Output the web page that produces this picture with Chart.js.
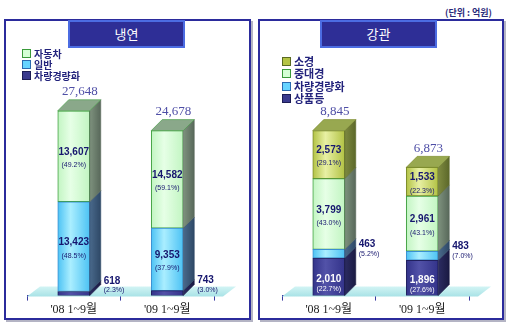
<!DOCTYPE html>
<html>
<head>
<meta charset="utf-8">
<script src="https://cdn.jsdelivr.net/npm/chart.js@4"></script>
<style>
  body{margin:0;width:512px;height:329px;background:#fff;position:relative;overflow:hidden;font-family:"Noto Sans CJK KR",sans-serif}
  .panel{position:absolute;top:19px;height:301px;box-sizing:border-box;border:2px solid #2b2b9c;box-shadow:2px 2px 0 #b4b4c4}
  #p1{left:4px;width:247px}
  #p2{left:258px;width:246px}
  .ttl{position:absolute;top:20px;width:117px;height:28px;box-sizing:border-box;background:#2e2e96;border:2px solid #4c6ce2;color:#fff;text-align:center;font-size:13px;line-height:24px;z-index:3}
  #t1{left:68px}
  #t2{left:320px}
  .unit{position:absolute;left:445px;top:6px;font-size:9px;color:#2a2a7a;font-weight:bold}
  .legend{position:absolute;z-index:3;color:#23237c;font-weight:bold}
  .legend div{white-space:nowrap}
  .legend i{display:inline-block;width:7px;height:7px;margin-right:3px;vertical-align:0px;border:1px solid}
  #l1{left:22px;top:48px;font-size:10px;line-height:11px}
  #l2{left:282px;top:55px;font-size:11px;line-height:12.3px}
  canvas{position:absolute;top:20px;z-index:2}
  #c1{left:5px}
  #c2{left:260px}
</style>
</head>
<body>
<div class="unit">(단위 : 억원)</div>
<div class="panel" id="p1"></div>
<div class="panel" id="p2"></div>
<div class="ttl" id="t1">냉연</div>
<div class="ttl" id="t2">강관</div>
<div class="legend" id="l1">
  <div><i style="background:#d4ffd4;border-color:#3a9a3a"></i>자동차</div>
  <div><i style="background:#66d4ff;border-color:#2a6ab0"></i>일반</div>
  <div><i style="background:#3a3a8e;border-color:#1c1c55"></i>차량경량화</div>
</div>
<div class="legend" id="l2">
  <div><i style="background:#b4c444;border-color:#5a6a22"></i>소경</div>
  <div><i style="background:#d4ffd4;border-color:#3a9a3a"></i>중대경</div>
  <div><i style="background:#66d4ff;border-color:#2a6ab0"></i>차량경량화</div>
  <div><i style="background:#3a3a8e;border-color:#1c1c55"></i>상품등</div>
</div>
<canvas id="c1" width="245" height="299"></canvas>
<canvas id="c2" width="242" height="299"></canvas>
<script>
// categories
const categories = ["'08 1~9월", "'09 1~9월"];

// 냉연 (bottom -> top)
const coldLight = [618, 743];        // 차량경량화
const coldGeneral = [13423, 9353];   // 일반
const coldAuto = [13607, 14582];     // 자동차
const coldLightPct = ['(2.3%)', '(3.0%)'];
const coldGeneralPct = ['(48.5%)', '(37.9%)'];
const coldAutoPct = ['(49.2%)', '(59.1%)'];
const coldTotals = [27648, 24678];

// 강관 (bottom -> top)
const pipeGoods = [2010, 1896];      // 상품등
const pipeLight = [463, 483];        // 차량경량화
const pipeLarge = [3799, 2961];      // 중대경
const pipeSmall = [2573, 1533];      // 소경
const pipeGoodsPct = ['(22.7%)', '(27.6%)'];
const pipeLightPct = ['(5.2%)', '(7.0%)'];
const pipeLargePct = ['(43.0%)', '(43.1%)'];
const pipeSmallPct = ['(29.1%)', '(22.3%)'];
const pipeTotals = [8845, 6873];

const BAR_W = 32, DX = 11, DY = 11;

// colours: front edge, front middle, border, side left, side right, top
const GREEN = ['#c2f5c2', '#e6ffe6', '#3f9f3f', '#7e927e', '#58685a', '#8aa88a'];
const BLUE = ['#4cc2f4', '#aaeeff', '#3a8fd0', '#4a6a8c', '#2e4866', '#6a8aaa'];
const NAVY = ['#33338a', '#5252a8', '#20205e', '#2c2c62', '#1a1a42', '#4a4a8a'];
const OLIVE = ['#b2c244', '#e8f0a4', '#7a8a2a', '#7e8a40', '#5c682a', '#98a850'];

function frontFill(col) {
  return function(ctx) {
    const chart = ctx.chart;
    if (!chart.chartArea || ctx.dataIndex == null) return col[0];
    const x = chart.scales.x.getPixelForValue(ctx.dataIndex);
    const g = chart.ctx.createLinearGradient(x - BAR_W / 2, 0, x + BAR_W / 2, 0);
    g.addColorStop(0, col[0]);
    g.addColorStop(0.4, col[1]);
    g.addColorStop(1, col[0]);
    return g;
  };
}

function ds(label, data, col, pct, light) {
  return {
    label: label, data: data, pct: pct, col: col, whiteText: !!light,
    backgroundColor: frontFill(col), borderColor: col[2], borderWidth: 1,
    borderSkipped: false, barThickness: BAR_W
  };
}

const bars3d = {
  id: 'bars3d',
  beforeDatasetsDraw(chart) {
    // floor plate under the bars
    const c = chart.ctx, a = chart.chartArea, y0 = a.bottom;
    c.save();
    const g = c.createLinearGradient(0, y0 - 9, 0, y0 + 1);
    g.addColorStop(0, '#d2f4f4');
    g.addColorStop(1, '#a8e2e6');
    c.fillStyle = g;
    c.beginPath();
    c.moveTo(a.left, y0 + 1);
    c.lineTo(a.right + 9, y0 + 1);
    c.lineTo(a.right + 22, y0 - 9);
    c.lineTo(a.left + 13, y0 - 9);
    c.closePath();
    c.fill();
    c.restore();
  },
  afterDatasetsDraw(chart) {
    // side and top faces
    const c = chart.ctx;
    const n = chart.data.datasets.length;
    c.save();
    chart.data.datasets.forEach((d, di) => {
      const meta = chart.getDatasetMeta(di);
      meta.data.forEach(el => {
        const p = el.getProps(['x', 'y', 'base', 'width'], true);
        const l = p.x - p.width / 2, r = p.x + p.width / 2;
        const top = Math.min(p.y, p.base), bot = Math.max(p.y, p.base);
        const g = c.createLinearGradient(r, 0, r + DX, 0);
        g.addColorStop(0, d.col[3]);
        g.addColorStop(1, d.col[4]);
        c.fillStyle = g;
        c.strokeStyle = d.col[4];
        c.lineWidth = 0.6;
        c.beginPath();
        c.moveTo(r, bot);
        c.lineTo(r, top);
        c.lineTo(r + DX, top - DY);
        c.lineTo(r + DX, bot - DY);
        c.closePath();
        c.fill();
        c.stroke();
        if (di === n - 1) {
          c.fillStyle = d.col[5];
          c.strokeStyle = d.col[2];
          c.beginPath();
          c.moveTo(l, top);
          c.lineTo(l + DX, top - DY);
          c.lineTo(r + DX, top - DY);
          c.lineTo(r, top);
          c.closePath();
          c.fill();
          c.stroke();
        }
      });
    });
    c.restore();
  },
  afterDraw(chart) {
    // value / share labels and totals
    const c = chart.ctx;
    const n = chart.data.datasets.length;
    c.save();
    c.textBaseline = 'middle';
    chart.data.datasets.forEach((d, di) => {
      const meta = chart.getDatasetMeta(di);
      meta.data.forEach((el, i) => {
        const p = el.getProps(['x', 'y', 'base', 'width'], true);
        const r = p.x + p.width / 2;
        const top = Math.min(p.y, p.base), bot = Math.max(p.y, p.base);
        const val = d.data[i].toLocaleString('en-US');
        let vx, vy, py;
        if (bot - top < 14) {
          c.textAlign = 'left';
          vx = r + DX + 3;
          if (di === 0) { vy = top - 10; py = top - 1; }
          else { vy = top - 5; py = top + 5; }
          c.fillStyle = '#16166e';
        } else {
          c.textAlign = 'center';
          vx = p.x;
          const mid = (top + bot) / 2;
          if (d.whiteText) { vy = mid + 2; py = mid + 12; }
          else { vy = mid - 4; py = mid + 9; }
          c.fillStyle = d.whiteText ? '#ffffff' : '#16166e';
        }
        c.font = 'bold 10px "Liberation Sans", Arial, sans-serif';
        c.fillText(val, vx, vy);
        c.font = '7px "Liberation Sans", Arial, sans-serif';
        c.fillText(d.pct[i], vx, py);
        if (di === n - 1) {
          c.textAlign = 'center';
          c.fillStyle = '#4e4ea6';
          c.font = '13px "Liberation Serif", serif';
          c.fillText(chart.options.totals[i].toLocaleString('en-US'), p.x + 6, top - DY - 8);
        }
      });
    });
    c.restore();
  }
};

function makeChart(id, datasets, max, padTop, padRight, totals) {
  return new Chart(document.getElementById(id), {
    type: 'bar',
    data: { labels: categories, datasets: datasets },
    options: {
      responsive: false,
      animation: false,
      totals: totals,
      layout: { padding: { top: padTop, left: 22, right: padRight, bottom: 0 } },
      plugins: { legend: { display: false }, tooltip: { enabled: false } },
      scales: {
        x: {
          stacked: true,
          grid: { display: true, drawOnChartArea: false, tickLength: 5, color: '#3a3aa0', offset: true },
          border: { color: '#3a3aa0', width: 1 },
          ticks: { color: '#222', padding: 2, font: { family: '"Liberation Serif", "Noto Sans CJK KR", serif', size: 12 } }
        },
        y: { stacked: true, display: false, min: 0, max: max }
      }
    },
    plugins: [bars3d]
  });
}

makeChart('c1', [
  ds('차량경량화', coldLight, NAVY, coldLightPct, true),
  ds('일반', coldGeneral, BLUE, coldGeneralPct),
  ds('자동차', coldAuto, GREEN, coldAutoPct)
], 30000, 75, 36, coldTotals);

makeChart('c2', [
  ds('상품등', pipeGoods, NAVY, pipeGoodsPct, true),
  ds('차량경량화', pipeLight, BLUE, pipeLightPct),
  ds('중대경', pipeLarge, GREEN, pipeLargePct),
  ds('소경', pipeSmall, OLIVE, pipeSmallPct)
], 10000, 89, 33, pipeTotals);
</script>
</body>
</html>
